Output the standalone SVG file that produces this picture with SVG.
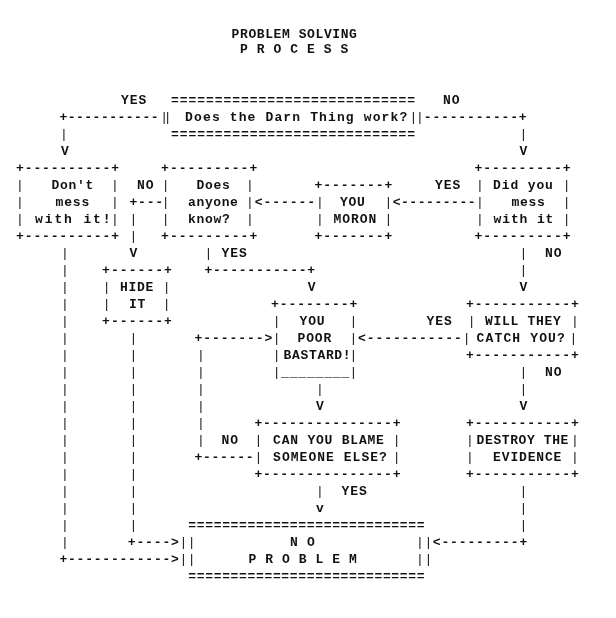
<svg xmlns="http://www.w3.org/2000/svg" width="616" height="618" viewBox="0 0 616 618" xml:space="preserve">
<style>
text{font-family:"Liberation Mono","DejaVu Sans Mono",monospace;font-size:13px;letter-spacing:0.84px;fill:#111;font-weight:bold}
.p{font-weight:normal}
</style>
<defs>
<filter id="gray" x="0" y="0" width="616" height="618" filterUnits="userSpaceOnUse"><feOffset dx="0" dy="0"/></filter>
</defs>
<rect width="616" height="618" fill="#fff"/>
<g filter="url(#gray)">
<g id="title">
<text x="231.6" y="37.6" style="letter-spacing:0.59px">PROBLEM SOLVING</text>
<text x="240.1" y="52.6" style="letter-spacing:0.575px">P R O C E S S</text>
</g>
<g id="node-works">
<text x="171" y="104.3" style="letter-spacing:0.95px">============================</text>
<text class="p" x="160.2" y="121.3" style="letter-spacing:-4.2px">||</text>
<text x="185.1" y="121.3" style="letter-spacing:1.13px">Does the Darn Thing work?</text>
<text class="p" x="409.4" y="121.3" style="letter-spacing:-1.1px">||</text>
<text x="171" y="138.3" style="letter-spacing:0.95px">============================</text>
</g>
<g id="node-dont">
<text x="16.1" y="172.3">+----------+</text>
<text class="p" x="16.1 16.1 16.1" y="189.3 206.3 223.3">|||</text>
<text class="p" x="111.1 111.1 111.1" y="189.3 206.3 223.3">|||</text>
<text x="51.6" y="189.3" style="letter-spacing:0.7px">Don't</text>
<text x="55.5" y="206.3">mess</text>
<text x="35.1" y="223.3" style="letter-spacing:1.87px">with it!</text>
<text x="16.1" y="240.3">+----------+</text>
</g>
<g id="node-anyone">
<text x="161.1" y="172.3" style="letter-spacing:1.03px">+---------+</text>
<text class="p" x="161.8 161.8 161.8" y="189.3 206.3 223.3">|||</text>
<text class="p" x="246.1 246.1 246.1" y="189.3 206.3 223.3">|||</text>
<text x="196.6" y="189.3" style="letter-spacing:0.7px">Does</text>
<text x="188.1" y="206.3" style="letter-spacing:0.6px">anyone</text>
<text x="188.1" y="223.3" style="letter-spacing:0.7px">know?</text>
<text x="161.1" y="240.3" style="letter-spacing:1.03px">+---------+</text>
</g>
<g id="node-moron">
<text x="314.4" y="189.3" style="letter-spacing:0.95px">+-------+</text>
<text class="p" x="316.1 316.1" y="206.3 223.3">||</text>
<text class="p" x="384.4 384.4" y="206.3 223.3">||</text>
<text x="340.1" y="206.3" style="letter-spacing:0.7px">YOU</text>
<text x="333.6" y="223.3" style="letter-spacing:0.95px">MORON</text>
<text x="314.4" y="240.3" style="letter-spacing:0.95px">+-------+</text>
</g>
<g id="node-didyou">
<text x="474.4" y="172.3" style="letter-spacing:1.04px">+---------+</text>
<text class="p" x="476.1 476.1 476.1" y="189.3 206.3 223.3">|||</text>
<text class="p" x="562.8 562.8 562.8" y="189.3 206.3 223.3">|||</text>
<text x="493.1" y="189.3" style="letter-spacing:0.87px">Did you</text>
<text x="511.6" y="206.3" style="letter-spacing:0.7px">mess</text>
<text x="493.6" y="223.3" style="letter-spacing:0.87px">with it</text>
<text x="474.4" y="240.3" style="letter-spacing:1.04px">+---------+</text>
</g>
<g id="node-hide">
<text x="102.1" y="274.3" style="letter-spacing:1.06px">+------+</text>
<text class="p" x="102.8 102.8" y="291.3 308.3">||</text>
<text class="p" x="162.8 162.8" y="291.3 308.3">||</text>
<text x="120.1" y="291.3" style="letter-spacing:0.7px">HIDE</text>
<text x="129.1" y="308.3" style="letter-spacing:0.7px">IT</text>
<text x="102.1" y="325.3" style="letter-spacing:1.06px">+------+</text>
</g>
<g id="node-bastard">
<text x="271.1" y="308.3" style="letter-spacing:0.9px">+--------+</text>
<text class="p" x="272.8 272.8 272.8 272.8" y="325.3 342.3 359.3 376.3">||||</text>
<text class="p" x="349.4 349.4 349.4 349.4" y="325.3 342.3 359.3 376.3">||||</text>
<text x="299.5" y="325.3">YOU</text>
<text x="297.5" y="342.3">POOR</text>
<text x="283.6" y="359.3" style="letter-spacing:0.66px">BASTARD!</text>
<text x="281" y="376.3">________</text>
</g>
<g id="node-catch">
<text x="466.1" y="308.3" style="letter-spacing:0.95px">+-----------+</text>
<text class="p" x="467.8" y="325.3">|</text>
<text x="485.1" y="325.3" style="letter-spacing:0.7px">WILL THEY</text>
<text class="p" x="571.1" y="325.3">|</text>
<text class="p" x="462.8" y="342.3">|</text>
<text x="476.6" y="342.3" style="letter-spacing:1.14px">CATCH YOU?</text>
<text class="p" x="569.4" y="342.3">|</text>
<text x="466.1" y="359.3" style="letter-spacing:0.95px">+-----------+</text>
</g>
<g id="node-blame">
<text x="254.4" y="427.3">+---------------+</text>
<text class="p" x="254.4 254.4" y="444.3 461.3">||</text>
<text class="p" x="392.8 392.8" y="444.3 461.3">||</text>
<text x="273.1" y="444.3" style="letter-spacing:0.78px">CAN YOU BLAME</text>
<text x="273.1" y="461.3" style="letter-spacing:1.03px">SOMEONE ELSE?</text>
<text x="254.4" y="478.3">+---------------+</text>
</g>
<g id="node-destroy">
<text x="466.1" y="427.3" style="letter-spacing:0.95px">+-----------+</text>
<text class="p" x="466.1 466.1" y="444.3 461.3">||</text>
<text class="p" x="571.1 571.1" y="444.3 461.3">||</text>
<text x="476.6" y="444.3" style="letter-spacing:0.6px">DESTROY THE</text>
<text x="493.1" y="461.3">EVIDENCE</text>
<text x="466.1" y="478.3" style="letter-spacing:0.95px">+-----------+</text>
</g>
<g id="node-noproblem">
<text x="188.3" y="529.3" style="letter-spacing:0.66px">============================</text>
<text class="p" x="179.4" y="546.3" style="letter-spacing:0.6px">||</text>
<text class="p" x="179.4" y="563.3" style="letter-spacing:0.6px">||</text>
<text x="290.1" y="546.3" style="letter-spacing:0.7px">N O</text>
<text x="248.6" y="563.3" style="letter-spacing:0.575px">P R O B L E M</text>
<text class="p" x="416.1" y="546.3" style="letter-spacing:0.5px">||</text>
<text class="p" x="416.1" y="563.3" style="letter-spacing:0.5px">||</text>
<text x="188.3" y="580.3" style="letter-spacing:0.66px">============================</text>
</g>
<g id="connectors">
<text x="121.1" y="104.3">YES</text>
<text x="443" y="104.3">NO</text>
<text x="59.4" y="121.3" style="letter-spacing:0.5px">+-----------</text>
<text x="423.8" y="121.3">-----------+</text>
<text class="p" x="60.1" y="138.3">|</text>
<text x="61.1" y="155.3">V</text>
<text class="p" x="519.4" y="138.3">|</text>
<text x="519.4" y="155.3">V</text>
<text x="137" y="189.3">NO</text>
<text x="129.4" y="206.3">+---</text>
<text class="p" x="129.4 129.4" y="223.3 240.3">||</text>
<text x="129.4" y="257.3">V</text>
<text x="254.85" y="206.3" style="letter-spacing:0.95px">&lt;------</text>
<text x="435.1" y="189.3">YES</text>
<text x="392.7" y="206.3" style="letter-spacing:0.54px">&lt;---------</text>
<text class="p" x="204.4" y="257.3">|</text>
<text x="221.6" y="257.3">YES</text>
<text x="204.4" y="274.3" style="letter-spacing:0.78px">+-----------+</text>
<text x="307.8" y="291.3">V</text>
<text class="p" x="519.4 519.4" y="257.3 274.3">||</text>
<text x="545.1" y="257.3">NO</text>
<text x="519.4" y="291.3">V</text>
<text class="p" x="61.1 61.1 61.1 61.1 61.1 61.1 61.1 61.1 61.1 61.1 61.1 61.1 61.1 61.1 61.1 61.1 61.1 61.1" y="257.3 274.3 291.3 308.3 325.3 342.3 359.3 376.3 393.3 410.3 427.3 444.3 461.3 478.3 495.3 512.3 529.3 546.3">||||||||||||||||||</text>
<text x="59.4" y="563.3" style="letter-spacing:0.79px">+------------&gt;</text>
<text class="p" x="129.4 129.4 129.4 129.4 129.4 129.4 129.4 129.4 129.4 129.4 129.4 129.4" y="342.3 359.3 376.3 393.3 410.3 427.3 444.3 461.3 478.3 495.3 512.3 529.3">||||||||||||</text>
<text x="127.8" y="546.3" style="letter-spacing:0.86px">+----&gt;</text>
<text x="194.4" y="342.3" style="letter-spacing:0.95px">+-------&gt;</text>
<text class="p" x="197.1 197.1 197.1 197.1 197.1 197.1" y="359.3 376.3 393.3 410.3 427.3 444.3">||||||</text>
<text x="221.6" y="444.3">NO</text>
<text x="194.4" y="461.3" style="letter-spacing:0.77px">+------</text>
<text x="426.6" y="325.3">YES</text>
<text x="358" y="342.3" style="letter-spacing:0.92px">&lt;-----------</text>
<text class="p" x="519.4" y="376.3">|</text>
<text x="545.1" y="376.3">NO</text>
<text class="p" x="519.4" y="393.3">|</text>
<text x="519.4" y="410.3">V</text>
<text class="p" x="316.1" y="393.3">|</text>
<text x="316.1" y="410.3">V</text>
<text class="p" x="316.1" y="495.3">|</text>
<text x="341.6" y="495.3">YES</text>
<text x="316.1" y="512.3">v</text>
<text class="p" x="519.4 519.4 519.4" y="495.3 512.3 529.3">|||</text>
<text x="432.8" y="546.3" style="letter-spacing:0.86px">&lt;---------+</text>
</g>
</g>
</svg>
